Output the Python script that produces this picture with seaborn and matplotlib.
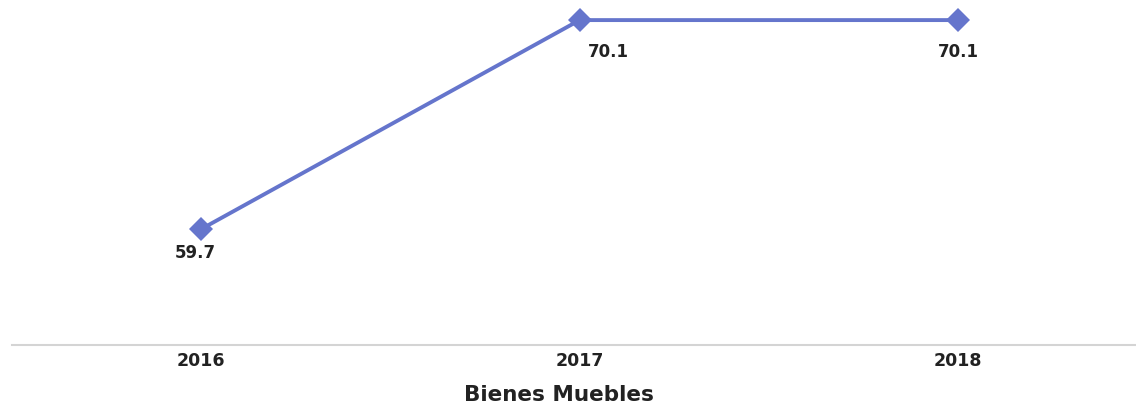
import matplotlib
matplotlib.use("Agg")
import matplotlib.pyplot as plt
import seaborn as sns
import pandas as pd

years = ["2016", "2017", "2018"]
values = [59.7, 70.1, 70.1]

# label offsets in pixels (dx, dy) as placed in the original
label_dx = [-6, 29, 0]
label_dy = [-24, -32, -32]

df = pd.DataFrame({"year": years, "value": values})

sns.set_style("white")
plt.rcParams['font.family'] = ['DejaVu Sans']

fig = plt.figure(figsize=(11.36, 4.03), dpi=100)
ax = fig.add_axes([0.0106, 0.144, 0.9894, 0.856])

sns.lineplot(data=df, x="year", y="value", ax=ax, color="#6575cc", linewidth=2.8,
             marker="D", markersize=12, markeredgewidth=0, sort=False)

for i, v in enumerate(values):
    ax.annotate(f"{v:.1f}", (i, v), xytext=(label_dx[i], label_dy[i]), textcoords="offset pixels",
                ha="center", va="center", fontsize=12, fontweight="bold", color="#222222")

ax.set_xlim(-0.5, 2.47)
ax.set_ylim(53.93, 71.1)
ax.set_yticks([])
ax.set_ylabel("")
ax.set_xticks(range(len(years)))
ax.set_xticklabels(years, fontsize=12.5, fontweight="bold", color="#222222")
ax.set_xticks([-0.5, 0.5, 1.5], minor=True)
ax.tick_params(axis="x", which="major", length=0, pad=5)
ax.tick_params(axis="x", which="minor", length=5, color="#e0d6b8", width=1.2)
ax.set_xlabel("Bienes Muebles", fontsize=15.5, fontweight="bold", color="#222222")
ax.xaxis.set_label_coords(0.487, -0.115)

for s in ["top", "right", "left"]:
    ax.spines[s].set_visible(False)
ax.spines["bottom"].set_color("#d4d4d4")
ax.spines["bottom"].set_linewidth(1.5)
for l in ax.lines:
    l.set_clip_on(False)

fig.savefig("out.png", dpi=100)
